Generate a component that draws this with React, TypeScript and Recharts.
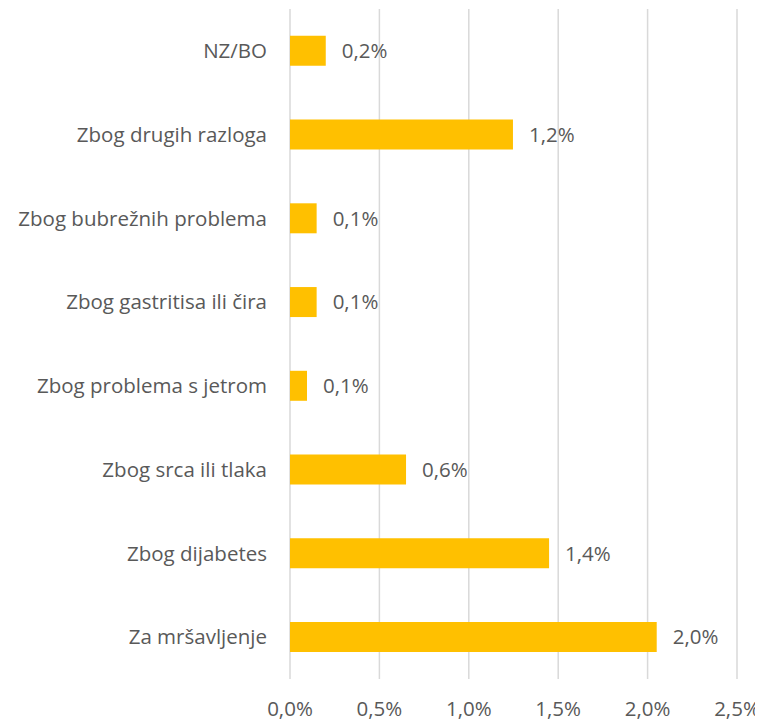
import React from 'react';
import { BarChart, Bar, XAxis, YAxis, CartesianGrid, LabelList } from 'recharts';

const categories = [
  'NZ/BO',
  'Zbog drugih razloga',
  'Zbog bubrežnih problema',
  'Zbog gastritisa ili čira',
  'Zbog problema s jetrom',
  'Zbog srca ili tlaka',
  'Zbog dijabetes',
  'Za mršavljenje',
];
const values = [0.2, 1.247, 0.149, 0.149, 0.095, 0.649, 1.449, 2.051];
const valueLabels = ['0,2%', '1,2%', '0,1%', '0,1%', '0,1%', '0,6%', '1,4%', '2,0%'];
const xTicks = [0, 0.5, 1, 1.5, 2, 2.5];

const chartData = categories.map((name, i) => ({ name, value: values[i], label: valueLabels[i] }));

const font = '"Open Sans", sans-serif';
const textColor = '#595959';
const fontSize = 20.5;

const App: React.FC = () => {
  return (
    <div style={{ fontFamily: font }}>
      <BarChart
        width={755}
        height={713}
        data={chartData}
        layout="vertical"
        margin={{ top: 1, right: 26, bottom: 10, left: 0 }}
        barCategoryGap="32%"
      >
        <CartesianGrid horizontal={false} stroke="#D9D9D9" strokeWidth={1.5} />
        <XAxis
          type="number"
          domain={[0, 2.5]}
          ticks={xTicks}
          tickFormatter={(v: number) => `${v.toFixed(1).replace('.', ',')}%`}
          axisLine={false}
          tickLine={false}
          tickSize={0}
          tickMargin={22}
          height={32}
          tick={{ fill: textColor, fontSize, fontFamily: font }}
        />
        <YAxis
          type="category"
          dataKey="name"
          width={282}
          axisLine={false}
          tickLine={false}
          tickSize={0}
          tickMargin={23}
          tick={{ fill: textColor, fontSize, fontFamily: font }}
        />
        <Bar dataKey="value" fill="#FFC000" isAnimationActive={false}>
          <LabelList
            dataKey="label"
            position="right"
            offset={16}
            fill={textColor}
            fontSize={fontSize}
            fontFamily={font}
          />
        </Bar>
      </BarChart>
    </div>
  );
};

export default App;
